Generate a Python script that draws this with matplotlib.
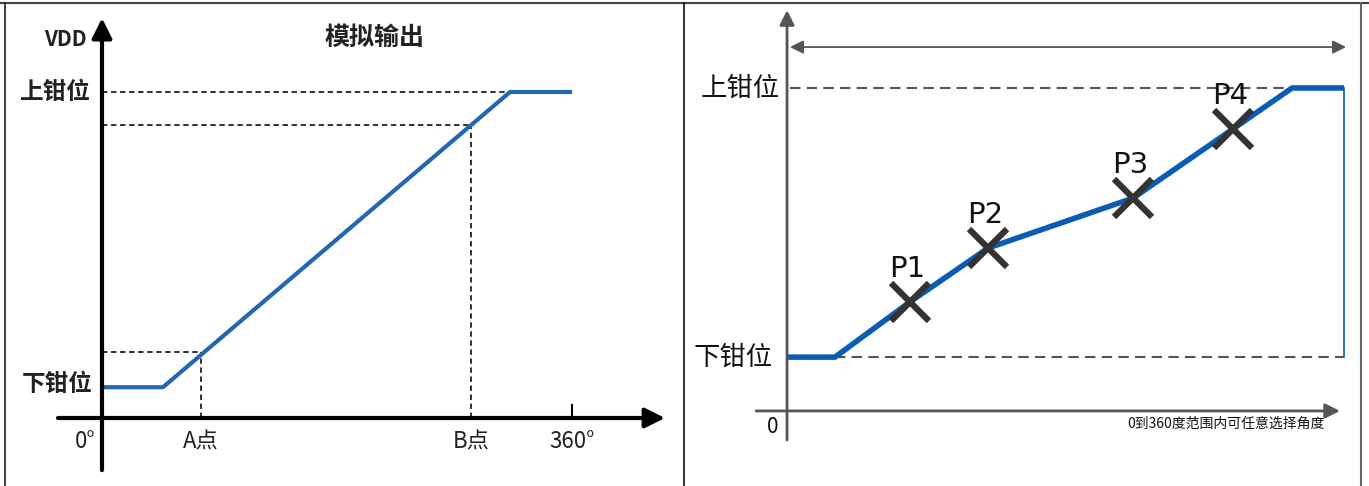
import matplotlib
matplotlib.use("Agg")
import matplotlib.pyplot as plt
from matplotlib.lines import Line2D

plt.rcParams['font.family'] = ['Noto Sans CJK SC', 'DejaVu Sans']

# Left panel: analog output vs angle (degrees, output in arbitrary units)
left_deg = [0, 46.7, 312.5, 360]
left_out = [8.5, 8.5, 90, 90]
clamp_low_l = 8.5
clamp_high = 90
a_deg, a_out = 75.8, 18.2
b_deg, b_out = 283, 80.9
left_ticks = [0, 75.8, 283, 360]
left_tick_labels = ['0°', 'A点', 'B点', '360°']

# Right panel: multi-point calibrated curve
right_deg = [0, 31, 79.5, 130, 223.6, 288.3, 326.4, 360]
right_out = [15, 15, 30.4, 45.4, 59.3, 78.6, 90, 90]
clamp_low_r = 15
point_names = ['P1', 'P2', 'P3', 'P4']
point_deg = right_deg[2:6]
point_out = right_out[2:6]

W, H = 1369, 486
fig = plt.figure(figsize=(W / 100, H / 100), dpi=100)


def fig_rect(x0, x1, y0, y1):
    return [x0 / W, (H - y1) / H, (x1 - x0) / W, (y1 - y0) / H]


# ---- left panel ----
ax = fig.add_axes(fig_rect(5, 683, 4, 482))
ax.set_xlim(-74.3, 445.0)
ax.set_ylim(-17.67, 114.3)
ax.axis('off')

blue_l = '#2467b1'
ax.plot(left_deg, left_out, color=blue_l, lw=3, solid_capstyle='butt', zorder=3)
dash = dict(color='#222222', lw=1.3, ls=(0, (3, 2)))
ax.plot([0, left_deg[2]], [clamp_high, clamp_high], **dash)
ax.plot([0, a_deg], [a_out, a_out], **dash)
ax.plot([a_deg, a_deg], [0, a_out], **dash)
ax.plot([0, b_deg], [b_out, b_out], **dash)
ax.plot([b_deg, b_deg], [0, b_out], **dash)
ax.plot([360, 360], [0, 3.6], color='black', lw=1.5)

arr = dict(arrowstyle='-|>', lw=3, color='black', mutation_scale=30,
           shrinkA=0, shrinkB=0)
ax.annotate('', xy=(0, 110.4), xytext=(0, -14.4), arrowprops=arr)
ax.annotate('', xy=(431.2, 0), xytext=(-33.7, 0), arrowprops=arr)

for d, lab in zip(left_ticks, left_tick_labels):
    xoff = -13 if d == 0 else 0
    ax.text(d + xoff, -6.6, lab, ha='center', va='center', fontsize=16,
            color='#222222')
ax.text(-36, clamp_high, '上钳位', ha='center', va='center', fontsize=17,
        fontweight='bold', color='#222222')
ax.text(-34.5, 9.3, '下钳位', ha='center', va='center', fontsize=17,
        fontweight='bold', color='#222222')
ax.text(-28.3, 104.4, 'VDD', ha='center', va='center', fontsize=15,
        fontweight='bold', color='#222222')
ax.text(209, 104.9, '模拟输出', ha='center', va='center', fontsize=18,
        fontweight='bold', color='#222222')

# ---- right panel ----
ax2 = fig.add_axes(fig_rect(684, 1366, 4, 482))
ax2.set_xlim(-66.6, 374.2)
ax2.set_ylim(-19.8, 113.4)
ax2.axis('off')

blue_r = '#0a5db3'
gray = '#555555'
ax2.plot(right_deg, right_out, color=blue_r, lw=4, solid_capstyle='butt', zorder=3)
ax2.plot([360, 360], [clamp_low_r, clamp_high], color=blue_r, lw=1.2)
dash2 = dict(color=gray, lw=1.5, ls=(0, (5, 3)))
ax2.plot([2, right_deg[6]], [clamp_high, clamp_high], **dash2)
ax2.plot([right_deg[1], 360], [clamp_low_r, clamp_low_r], **dash2)

ax2.plot(point_deg, point_out, ls='none', marker='x', ms=28, mew=4.5,
         color='#333333', zorder=4)
for name, d, v in zip(point_names, point_deg, point_out):
    ax2.text(d - 2, v + 9.2, name, ha='center', va='center', fontsize=21,
             color='#111111', family=['DejaVu Sans'])

arr2 = dict(arrowstyle='-|>', lw=2, color=gray, mutation_scale=22,
            shrinkA=0, shrinkB=0)
ax2.annotate('', xy=(0, 111.7), xytext=(0, -8.1), arrowprops=arr2)
ax2.annotate('', xy=(357.4, 0), xytext=(-20, 0), arrowprops=arr2)
ax2.annotate('', xy=(361.3, 101.4), xytext=(1.9, 101.4),
             arrowprops=dict(arrowstyle='<|-|>', lw=1.3, color=gray,
                             mutation_scale=20, shrinkA=0, shrinkB=0))

ax2.text(-30.4, clamp_high, '上钳位', ha='center', va='center', fontsize=19,
         color='#111111')
ax2.text(-34.9, clamp_low_r, '下钳位', ha='center', va='center', fontsize=19,
         color='#111111')
ax2.text(-9, -4.5, '0', ha='center', va='center', fontsize=15, color='#111111')
ax2.text(283.7, -3.6, '0到360度范围内可任意选择角度', ha='center', va='center',
         fontsize=10, color='#111111')

# ---- frame lines ----
def fline(x0, y0, x1, y1, color, lw):
    fig.add_artist(Line2D([x0 / W, x1 / W], [1 - y0 / H, 1 - y1 / H],
                          transform=fig.transFigure, color=color, lw=lw))

fline(0, 3, W, 3, '#444444', 1.5)
fline(5, 3, 5, H, '#222222', 1.2)
fline(684, 3, 684, H, '#111111', 1.2)
fline(1361, 3, 1361, H, '#666666', 1.5)

fig.savefig('out.png', dpi=100)
